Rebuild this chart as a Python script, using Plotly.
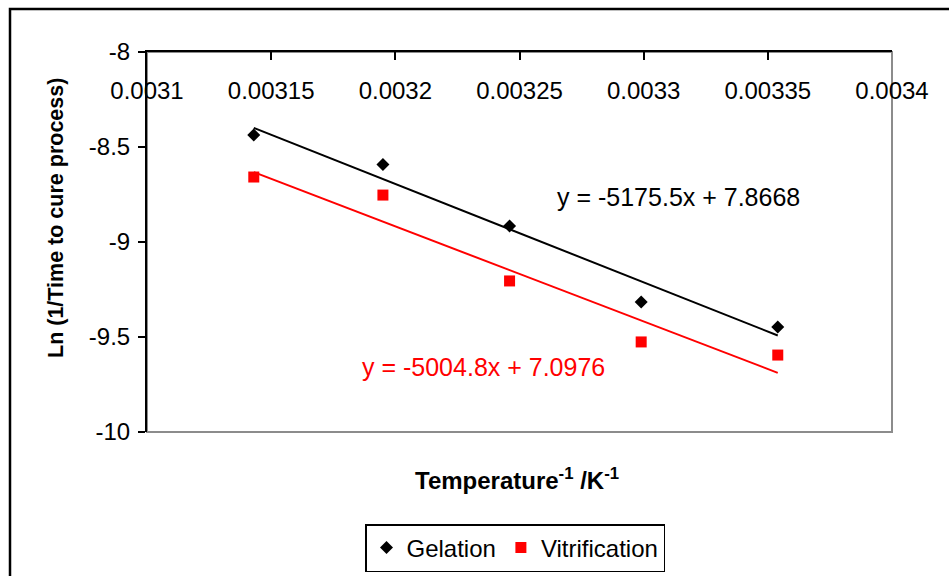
import plotly.graph_objects as go
import numpy as np

# Data
inv_temp = [0.003143, 0.003195, 0.003246, 0.003299, 0.003354]
gelation = [-8.437, -8.592, -8.916, -9.316, -9.447]
vitrification = [-8.658, -8.753, -9.205, -9.526, -9.595]
gel_fit = (-5175.5, 7.8668)
vit_fit = (-5004.8, 7.0976)
x_ticks = [0.0031, 0.00315, 0.0032, 0.00325, 0.0033, 0.00335, 0.0034]
x_tick_labels = ["0.0031", "0.00315", "0.0032", "0.00325", "0.0033", "0.00335", "0.0034"]
y_ticks = [-8, -8.5, -9, -9.5, -10]
y_tick_labels = ["-8", "-8.5", "-9", "-9.5", "-10"]

FONT = "Liberation Sans, Arial, sans-serif"

W, H = 949, 576
L, R, T, B = 147, 892, 52, 432
pw, ph = R - L, B - T

fig = go.Figure()

xs = np.array([inv_temp[0], inv_temp[-1]])
fig.add_trace(go.Scatter(x=xs, y=gel_fit[0] * xs + gel_fit[1], mode="lines",
                         line=dict(color="black", width=2), showlegend=False, hoverinfo="skip"))
fig.add_trace(go.Scatter(x=xs, y=vit_fit[0] * xs + vit_fit[1], mode="lines",
                         line=dict(color="#ff0000", width=2), showlegend=False, hoverinfo="skip"))
fig.add_trace(go.Scatter(x=inv_temp, y=gelation, mode="markers", name="Gelation",
                         marker=dict(symbol="diamond", color="black", size=10)))
fig.add_trace(go.Scatter(x=inv_temp, y=vitrification, mode="markers", name="Vitrification",
                         marker=dict(symbol="square", color="#ff0000", size=11)))
# invisible trace to carry the label axis
fig.add_trace(go.Scatter(x=[x_ticks[0], x_ticks[-1]], y=[y_ticks[0], y_ticks[0]], xaxis="x2",
                         mode="markers", marker=dict(opacity=0), showlegend=False, hoverinfo="skip"))

fig.update_layout(
    width=W, height=H,
    margin=dict(l=L, r=W - R, t=T, b=H - B, autoexpand=False),
    paper_bgcolor="white", plot_bgcolor="white",
    font=dict(family=FONT, size=24, color="black"),
    showlegend=True,
    legend=dict(orientation="h", x=(515 - L) / pw, xanchor="center",
                y=(B - 524) / ph, yanchor="top",
                bordercolor="black", borderwidth=1.5, bgcolor="white",
                font=dict(size=24), itemwidth=30, tracegroupgap=0),
    xaxis=dict(range=[0.0031, 0.0034], side="top", tickvals=x_ticks, showticklabels=False,
               ticks="inside", ticklen=8, tickcolor="black", tickwidth=1.5,
               showline=True, linecolor="black", linewidth=2, showgrid=False, zeroline=False,
               automargin=False),
    xaxis2=dict(range=[0.0031, 0.0034], overlaying="x", anchor="free", side="bottom",
                position=(B - 74) / ph, tickvals=x_ticks, ticktext=x_tick_labels,
                ticks="", showline=False, showgrid=False, zeroline=False,
                tickfont=dict(size=24), automargin=False),
    yaxis=dict(range=[-10, -8], tickvals=y_ticks, ticktext=y_tick_labels,
               ticks="outside", ticklen=7, tickcolor="black", tickwidth=1.5,
               showline=True, linecolor="black", linewidth=2, showgrid=False, zeroline=False,
               tickfont=dict(size=24), ticklabelstandoff=3, automargin=False),
    shapes=[
        dict(type="rect", xref="paper", yref="paper", x0=0, x1=1, y0=0, y1=1,
             line=dict(color="#8c8c8c", width=2), layer="below"),
        dict(type="rect", xref="paper", yref="paper",
             x0=(10 - L) / pw, x1=(960 - L) / pw, y0=(B - 590) / ph, y1=(B - 9) / ph,
             line=dict(color="black", width=2.5), layer="below"),
    ],
    annotations=[
        dict(text="<b>Ln (1/Time to cure process)</b>", xref="paper", yref="paper",
             x=(56 - L) / pw, y=(B - 218) / ph, showarrow=False, textangle=-90,
             font=dict(size=21.5), xanchor="center", yanchor="middle"),
        dict(text="<b>Temperature<sup>-1</sup> /K<sup>-1</sup></b>", xref="paper", yref="paper",
             x=(517 - L) / pw, y=(B - 479) / ph, showarrow=False, font=dict(size=24),
             xanchor="center", yanchor="middle"),
        dict(text="y = -5175.5x + 7.8668", xref="paper", yref="paper",
             x=(555 - L) / pw, y=(B - 197) / ph, showarrow=False, font=dict(size=25, color="black"),
             xanchor="left", yanchor="middle"),
        dict(text="y = -5004.8x + 7.0976", xref="paper", yref="paper",
             x=(360 - L) / pw, y=(B - 367) / ph, showarrow=False, font=dict(size=25, color="#ff0000"),
             xanchor="left", yanchor="middle"),
    ],
)

fig.write_html("out.html")
